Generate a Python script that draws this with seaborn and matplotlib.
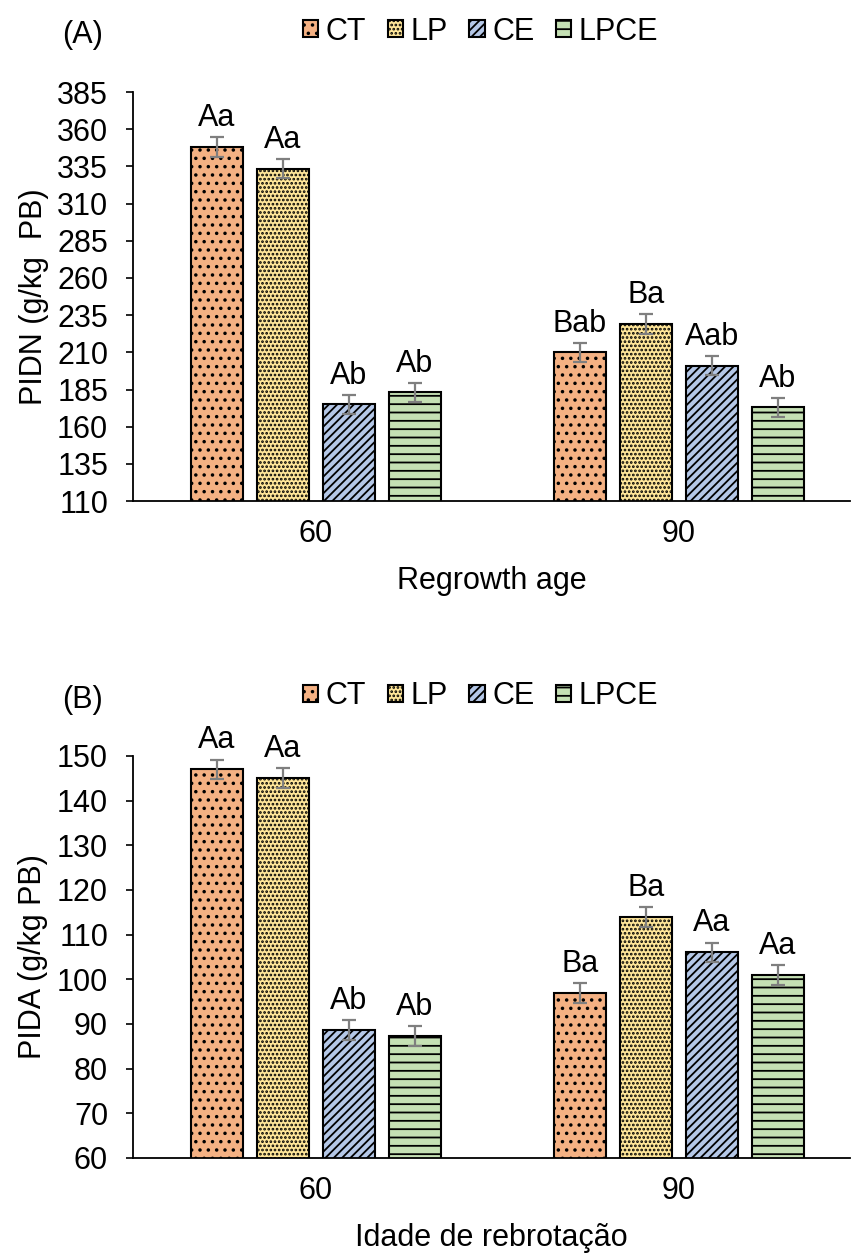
import numpy as np
import pandas as pd
import seaborn as sns
import matplotlib.pyplot as plt

# --- data ---
ages = ['60', '90']
treatments = ['CT', 'LP', 'CE', 'LPCE']

pidn_ct = [348.0, 210.0]
pidn_lp = [333.5, 229.0]
pidn_ce = [175.0, 201.0]
pidn_lpce = [183.0, 173.0]
pidn_err = [6.5, 6.5]
pidn_letters = [['Aa', 'Bab'], ['Aa', 'Ba'], ['Ab', 'Aab'], ['Ab', 'Ab']]

pida_ct = [147.0, 97.0]
pida_lp = [145.0, 114.0]
pida_ce = [88.7, 106.0]
pida_lpce = [87.3, 101.0]
pida_err = [2.2, 2.2]
pida_letters = [['Aa', 'Ba'], ['Aa', 'Ba'], ['Ab', 'Aa'], ['Ab', 'Aa']]

colors = ['#F4B183', '#FFE699', '#B4C7E7', '#C5E0B4']
hatches = ['..', '....', '////', '--']


def make_df(ct, lp, ce, lpce):
    rows = []
    for trt, vals in zip(treatments, [ct, lp, ce, lpce]):
        for age, v in zip(ages, vals):
            rows.append({'age': age, 'trt': trt, 'value': v})
    return pd.DataFrame(rows)


sns.set_style('white')
plt.rcParams['font.family'] = ['Liberation Sans', 'DejaVu Sans']
plt.rcParams['hatch.linewidth'] = 1.3
for key in ['text.color', 'axes.labelcolor', 'xtick.color', 'ytick.color']:
    plt.rcParams[key] = 'black'
FS = 22

fig = plt.figure(figsize=(8.51, 12.58), dpi=100)
ax_a = fig.add_axes([0.1563, 0.6017, 0.8425, 0.3251])
ax_b = fig.add_axes([0.1563, 0.0795, 0.8425, 0.3196])


def draw(ax, df, err, letters, ylim, yticks, ylabel, xlabel, tag):
    sns.barplot(data=df, x='age', y='value', hue='trt', order=ages,
                hue_order=treatments, palette=colors, saturation=1,
                width=0.727, gap=0.21, edgecolor='black', linewidth=1.5,
                errorbar=None, ax=ax, legend=False)
    bar_conts = list(ax.containers)
    for i, cont in enumerate(bar_conts):
        xs, hs = [], []
        for j, bar in enumerate(cont.patches):
            bar.set_hatch(hatches[i])
            x = bar.get_x() + bar.get_width() / 2
            h = bar.get_height()
            xs.append(x)
            hs.append(h)
            ax.annotate(letters[i][j], (x, h + err[j]), xytext=(0, 3),
                        textcoords='offset points', ha='center', va='bottom',
                        fontsize=FS)
        ax.errorbar(xs, hs, yerr=err, fmt='none', ecolor='#7F7F7F',
                    elinewidth=1.6, capsize=5, capthick=1.6, zorder=5)

    ax.set_ylim(*ylim)
    ax.set_yticks(yticks)
    ax.set_xlim(-0.504, 1.471)
    ax.tick_params(axis='y', labelsize=FS, length=5, width=1.2, direction='out',
                   left=True, pad=13)
    ax.tick_params(axis='x', labelsize=FS, length=0, pad=13)
    ax.set_ylabel(ylabel, fontsize=FS, labelpad=6)
    ax.set_xlabel(xlabel, fontsize=FS, labelpad=12)
    for s in ['top', 'right']:
        ax.spines[s].set_visible(False)
    for s in ['left', 'bottom']:
        ax.spines[s].set_color('black')
        ax.spines[s].set_linewidth(1.3)

    handles = [c.patches[0] for c in bar_conts]
    ax.legend(handles, treatments, loc='center',
              bbox_to_anchor=(0.485, 1.148), ncol=4, frameon=False,
              fontsize=FS, handlelength=0.5, handleheight=0.5,
              handletextpad=0.25, columnspacing=0.7, borderaxespad=0)
    ax.text(-0.071, 1.14, tag, transform=ax.transAxes, fontsize=FS,
            ha='center', va='center')


draw(ax_a, make_df(pidn_ct, pidn_lp, pidn_ce, pidn_lpce), pidn_err,
     pidn_letters, (110, 385), np.arange(110, 386, 25),
     'PIDN (g/kg  PB)', 'Regrowth age', '(A)')
draw(ax_b, make_df(pida_ct, pida_lp, pida_ce, pida_lpce), pida_err,
     pida_letters, (60, 150), np.arange(60, 151, 10),
     'PIDA (g/kg PB)', 'Idade de rebrotação', '(B)')

fig.savefig('out.png', dpi=100)
